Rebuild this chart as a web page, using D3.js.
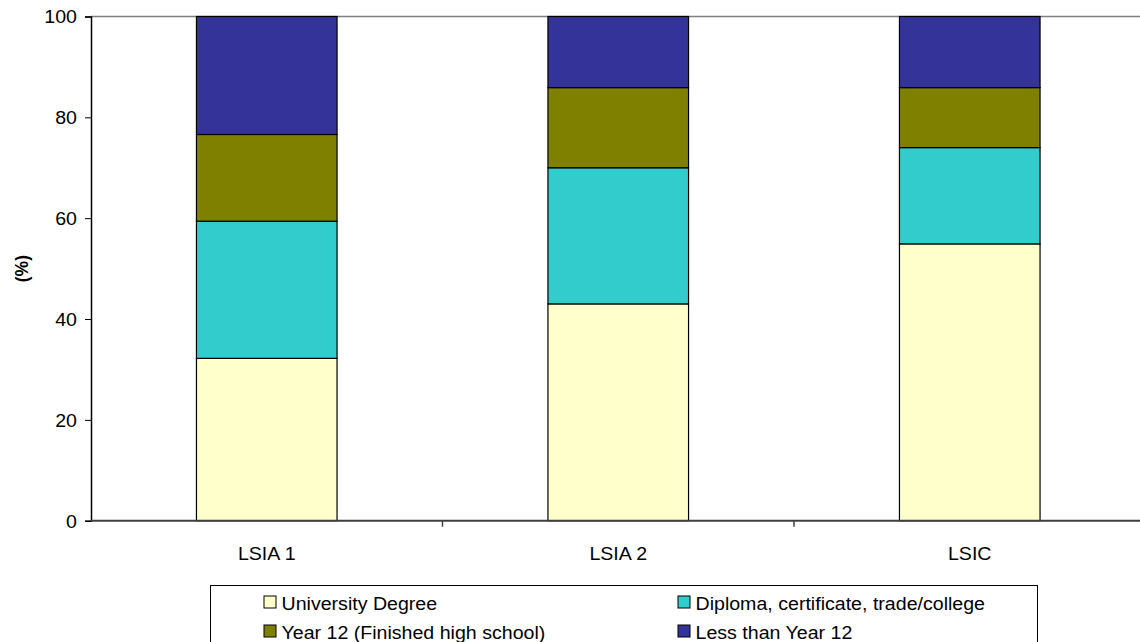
<!DOCTYPE html>
<html>
<head>
<meta charset="utf-8">
<script src="https://cdn.jsdelivr.net/npm/d3@7"></script>
<style>
  html, body { margin: 0; padding: 0; background: #fff; }
  svg { display: block; font-family: "Liberation Sans", Arial, sans-serif; }
</style>
</head>
<body>
<svg id="chart" width="1140" height="642"></svg>
<script>
// Education level by survey (% of respondents), stacked from the bottom up
const categories = ["LSIA 1", "LSIA 2", "LSIC"];
const seriesNames = ["University Degree", "Diploma, certificate, trade/college", "Year 12 (Finished high school)", "Less than Year 12"];
const university = [32.2, 43.0, 54.9];
const diploma = [27.2, 27.0, 19.1];
const year12 = [17.2, 15.9, 11.9];
const lessThanYear12 = [23.4, 14.1, 14.1];
const yTicks = [0, 20, 40, 60, 80, 100];
const colors = ["#FFFFCC", "#33CCCC", "#808000", "#333399"];

const seriesValues = [university, diploma, year12, lessThanYear12];
const rows = categories.map((c, i) => {
  const r = { category: c };
  seriesNames.forEach((s, k) => { r[s] = seriesValues[k][i]; });
  return r;
});

const FONT_SIZE = 17.5;
const STRETCH = 1.12; // wide text face

const svg = d3.select("#chart");
const margin = { left: 91, top: 16.5, right: -5.5, bottom: 121.3 };
const W = 1140, H = 642;
const plotW = W - margin.left - margin.right;
const plotH = H - margin.top - margin.bottom;

const x = d3.scaleBand().domain(categories).range([margin.left, margin.left + plotW])
  .paddingInner(0.6).paddingOuter(0.3);
const y = d3.scaleLinear().domain([0, 100]).range([margin.top + plotH, margin.top]);

const stacked = d3.stack().keys(seriesNames)(rows);

// plot area top border
svg.append("line")
  .attr("x1", margin.left).attr("x2", W)
  .attr("y1", y(100)).attr("y2", y(100))
  .attr("stroke", "#808080").attr("stroke-width", 1.5);

// bars
const layer = svg.append("g").selectAll("g").data(stacked).join("g")
  .attr("fill", (d, i) => colors[i]);
layer.selectAll("rect").data(d => d).join("rect")
  .attr("x", d => x(d.data.category))
  .attr("width", x.bandwidth())
  .attr("y", d => y(d[1]))
  .attr("height", d => y(d[0]) - y(d[1]))
  .attr("stroke", "#000").attr("stroke-width", 1.2);

// y axis
const yAxis = svg.append("g")
  .attr("transform", `translate(${margin.left},0)`)
  .call(d3.axisLeft(y).tickValues(yTicks).tickSize(6).tickPadding(7).tickFormat(d3.format("d")));
yAxis.select(".domain").attr("stroke", "#000").attr("stroke-width", 1.5);
yAxis.selectAll(".tick line").attr("stroke", "#000");
yAxis.selectAll(".tick text")
  .attr("x", 0).attr("dy", "0.36em")
  .attr("transform", `translate(-14,0) scale(${STRETCH},1)`)
  .attr("font-size", FONT_SIZE).attr("fill", "#000")
  .attr("font-family", "Liberation Sans, Arial, sans-serif");

// x axis with category separators
const xAxisG = svg.append("g").attr("transform", `translate(0,${y(0)})`);
xAxisG.append("line")
  .attr("x1", margin.left).attr("x2", W)
  .attr("stroke", "#404040").attr("stroke-width", 2);
const step = x.step();
const separators = categories.slice(1).map(c => x(c) - x.paddingInner() * step / 2);
xAxisG.selectAll("line.sep").data(separators).join("line")
  .attr("class", "sep")
  .attr("x1", d => d).attr("x2", d => d)
  .attr("y1", 0).attr("y2", 6)
  .attr("stroke", "#404040").attr("stroke-width", 1.5);
xAxisG.selectAll("text").data(categories).join("text")
  .attr("transform", d => `translate(${x(d) + x.bandwidth() / 2},39) scale(${STRETCH},1)`)
  .attr("text-anchor", "middle")
  .attr("font-size", FONT_SIZE)
  .text(d => d);

// y axis title
svg.append("text")
  .attr("transform", `translate(27.5,${(y(0) + y(100)) / 2}) rotate(-90)`)
  .attr("text-anchor", "middle")
  .attr("font-size", FONT_SIZE).attr("font-weight", "bold")
  .text("(%)");

// legend
const legend = svg.append("g");
legend.append("rect")
  .attr("x", 210.5).attr("y", 585.5).attr("width", 827).attr("height", 70)
  .attr("fill", "#fff").attr("stroke", "#000").attr("stroke-width", 1);
const legendPos = [
  { x: 264, y: 603 }, { x: 678, y: 603 },
  { x: 264, y: 632 }, { x: 678, y: 632 }
];
const items = legend.selectAll("g.item").data(seriesNames).join("g")
  .attr("class", "item")
  .attr("transform", (d, i) => `translate(${legendPos[i].x},${legendPos[i].y})`);
items.append("rect")
  .attr("x", 0).attr("y", -7).attr("width", 12).attr("height", 12)
  .attr("fill", (d, i) => colors[i]).attr("stroke", "#000").attr("stroke-width", 1);
items.append("text")
  .attr("transform", `translate(17.5,6.5) scale(${STRETCH},1)`)
  .attr("font-size", FONT_SIZE)
  .text(d => d);
</script>
</body>
</html>
